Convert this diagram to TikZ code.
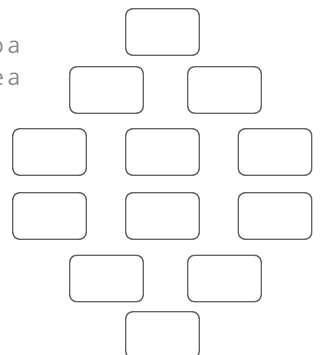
\documentclass[tikz,border=0pt]{standalone}
\usepackage{fontspec}
\setmainfont{Open Sans}
\definecolor{boxgray}{RGB}{100,100,100}
\definecolor{notegray}{RGB}{140,140,140}
\newcommand\notefont{\fontsize{23}{28}\selectfont\spaceskip 3.5pt\relax}

\begin{document}
\begin{tikzpicture}[
    x=1pt, y=-1pt,
    slot/.style={draw=boxgray, line width=1.4pt, rounded corners=7pt,
                 minimum width=73.5pt, minimum height=46.5pt, inner sep=0pt},
    note/.style={font=\notefont, color=notegray, anchor=base east, inner sep=0pt},
  ]
    \useasboundingbox (0,0) rectangle (326,355);
    \clip (0,0) rectangle (326,355);

    % left margin text, cut off by the page edge
    \node[note] (n1) at (20.5,54) {o a};
    \node[note] (n2) at (20.5,86) {e a};

    % diamond of empty boxes
    \node[slot] (top) at (162.5,32) {};
    \node[slot] (r2l) at (106.5,90) {};
    \node[slot] (r2r) at (224.5,90) {};
    \node[slot] (r3l) at (49.5,152) {};
    \node[slot] (r3m) at (162.5,152) {};
    \node[slot] (r3r) at (275,152) {};
    \node[slot] (r4l) at (49.5,216) {};
    \node[slot] (r4m) at (162.5,216) {};
    \node[slot] (r4r) at (275,216) {};
    \node[slot] (r5l) at (106.5,278.5) {};
    \node[slot] (r5r) at (224.5,278.5) {};
    \node[slot] (bot) at (162.5,335) {};
  \end{tikzpicture}
\end{document}
